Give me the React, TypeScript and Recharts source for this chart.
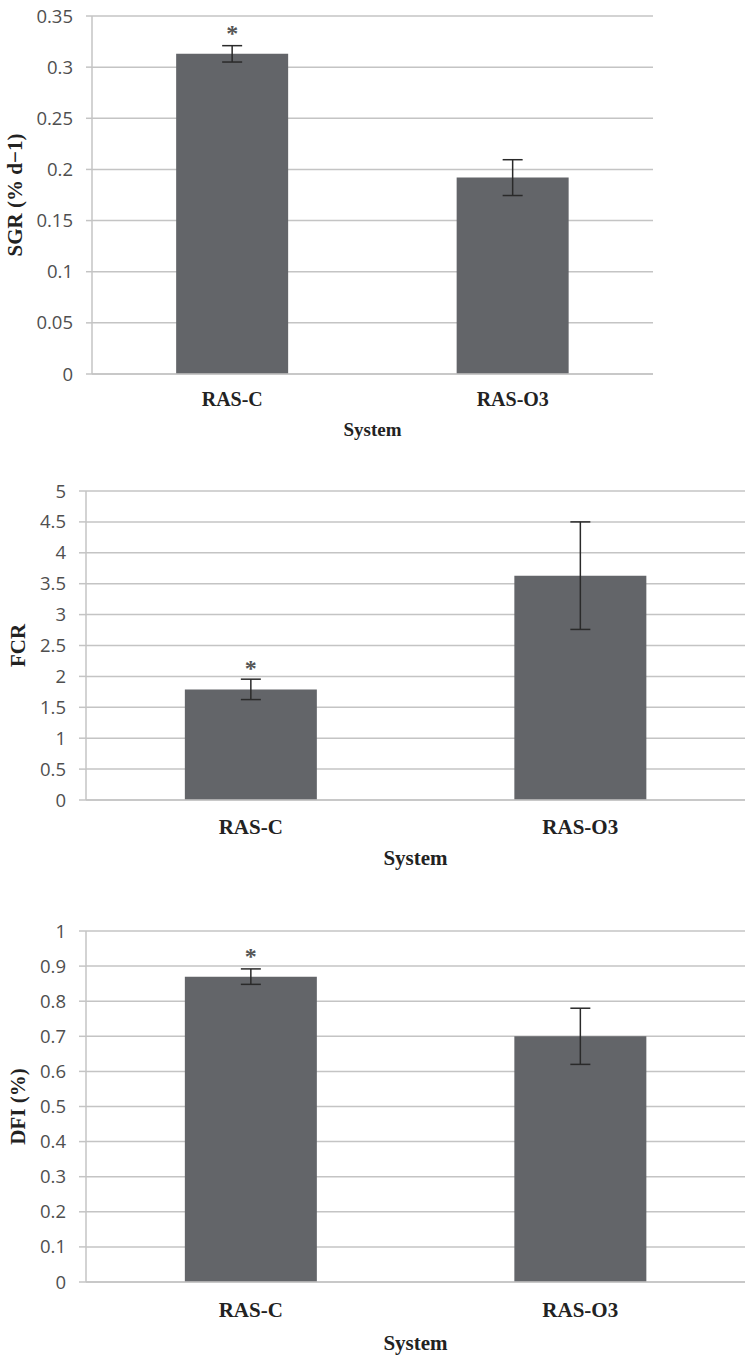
import React from 'react';
import { BarChart, Bar, XAxis, YAxis, CartesianGrid, ErrorBar, LabelList, Label } from 'recharts';

const systems = ['RAS-C', 'RAS-O3'];
const significance = ['*', ''];

const sgrMeans = [0.313, 0.192];
const sgrErrors = [0.008, 0.0175];
const sgrTicks = [0, 0.05, 0.1, 0.15, 0.2, 0.25, 0.3, 0.35];

const fcrMeans = [1.79, 3.63];
const fcrErrors = [0.165, 0.87];
const fcrTicks = [0, 0.5, 1, 1.5, 2, 2.5, 3, 3.5, 4, 4.5, 5];

const dfiMeans = [0.87, 0.7];
const dfiErrors = [0.022, 0.08];
const dfiTicks = [0, 0.1, 0.2, 0.3, 0.4, 0.5, 0.6, 0.7, 0.8, 0.9, 1];

const buildData = (means: number[], errors: number[]) =>
  systems.map((s, i) => ({ system: s, mean: means[i], err: errors[i], sig: significance[i] }));

const BAR = '#636569';
const GRID = '#c4c4c4';
const SERIF = '"Liberation Serif", "Times New Roman", serif';
const SANS = '"Open Sans", "Noto Sans", sans-serif';

type PanelProps = {
  top: number;
  height: number;
  marginTop: number;
  marginRight: number;
  yWidth: number;
  tickSize: number;
  tickFont: number;
  xHeight: number;
  catFont: number;
  catMargin: number;
  sysOffset: number;
  sysFont: number;
  yLabel: string;
  yLabelX: number;
  yLabelFont: number;
  ticks: number[];
  means: number[];
  errors: number[];
};

function Panel(p: PanelProps) {
  const data = buildData(p.means, p.errors);
  const maxT = p.ticks[p.ticks.length - 1];
  return (
    <div style={{ position: 'absolute', left: 0, top: p.top, width: 745, height: p.height }}>
      <BarChart
        width={745}
        height={p.height}
        data={data}
        margin={{ top: p.marginTop, right: p.marginRight, left: 0, bottom: 0 }}
        barCategoryGap="30%"
      >
        <CartesianGrid vertical={false} stroke={GRID} strokeWidth={1.5} />
        <XAxis
          dataKey="system"
          height={p.xHeight}
          tickLine={false}
          tickSize={0}
          tickMargin={p.catMargin}
          axisLine={{ stroke: GRID, strokeWidth: 1.5 }}
          tick={{ fill: '#222', fontFamily: SERIF, fontWeight: 700, fontSize: p.catFont }}
        >
          <Label
            content={(props: any) => {
              const vb = props.viewBox || {};
              return (
                <text
                  x={vb.x + vb.width / 2}
                  y={vb.y + p.sysOffset}
                  textAnchor="middle"
                  fill="#222"
                  fontFamily={SERIF}
                  fontWeight={700}
                  fontSize={p.sysFont}
                >
                  System
                </text>
              );
            }}
          />
        </XAxis>
        <YAxis
          width={p.yWidth}
          domain={[0, maxT]}
          ticks={p.ticks}
          interval={0}
          tickSize={p.tickSize}
          tickMargin={13}
          tickLine={{ stroke: GRID, strokeWidth: 1.5 }}
          axisLine={{ stroke: GRID, strokeWidth: 1.5 }}
          tick={{ fill: '#4f4f4f', fontFamily: SANS, fontSize: p.tickFont }}
        >
          <Label
            content={(props: any) => {
              const vb = props.viewBox || {};
              const cx = vb.x + p.yLabelX;
              const cy = vb.y + vb.height / 2;
              return (
                <text
                  x={cx}
                  y={cy}
                  transform={`rotate(-90 ${cx} ${cy})`}
                  textAnchor="middle"
                  fill="#222"
                  fontFamily={SERIF}
                  fontWeight={700}
                  fontSize={p.yLabelFont}
                >
                  {p.yLabel}
                </text>
              );
            }}
          />
        </YAxis>
        <Bar dataKey="mean" fill={BAR} isAnimationActive={false}>
          <ErrorBar dataKey="err" width={10} stroke="#2a2a2a" strokeWidth={1.5} direction="y" />
          <LabelList
            dataKey="sig"
            position="top"
            offset={13}
            fill="#555"
            fontFamily={SERIF}
            fontWeight={700}
            fontSize={24}
          />
        </Bar>
      </BarChart>
    </div>
  );
}

export default function App() {
  return (
    <div style={{ position: 'absolute', left: 0, top: 0, width: 745, height: 1358, background: '#fff' }}>
      <Panel
        top={0}
        height={450}
        marginTop={16}
        marginRight={92}
        yWidth={92}
        tickSize={6}
        tickFont={18.5}
        xHeight={76}
        catFont={20}
        catMargin={18}
        sysOffset={62}
        sysFont={19}
        yLabel="SGR (% d−1)"
        yLabelX={22}
        yLabelFont={21}
        ticks={sgrTicks}
        means={sgrMeans}
        errors={sgrErrors}
      />
      <Panel
        top={450}
        height={420}
        marginTop={41}
        marginRight={0}
        yWidth={86}
        tickSize={7}
        tickFont={18.5}
        xHeight={70}
        catFont={21}
        catMargin={19}
        sysOffset={65}
        sysFont={21}
        yLabel="FCR"
        yLabelX={25}
        yLabelFont={21}
        ticks={fcrTicks}
        means={fcrMeans}
        errors={fcrErrors}
      />
      <Panel
        top={880}
        height={478}
        marginTop={51}
        marginRight={0}
        yWidth={86}
        tickSize={7}
        tickFont={18.5}
        xHeight={76}
        catFont={21}
        catMargin={20}
        sysOffset={68}
        sysFont={21}
        yLabel="DFI (%)"
        yLabelX={25}
        yLabelFont={21}
        ticks={dfiTicks}
        means={dfiMeans}
        errors={dfiErrors}
      />
    </div>
  );
}
